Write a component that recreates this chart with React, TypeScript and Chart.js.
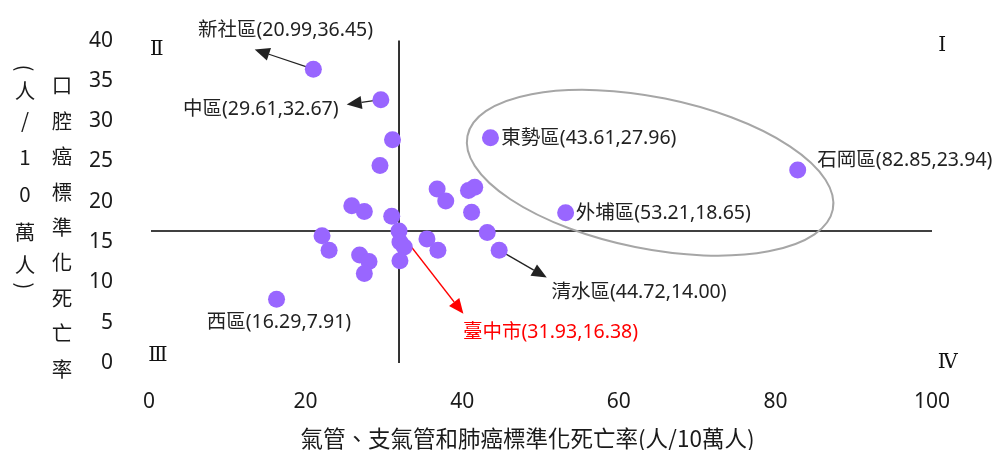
import React, { useEffect, useRef } from "react";
import { Chart, registerables } from "chart.js";

Chart.register(...registerables);

// ---- Data ----
// Labelled districts (x: lung cancer rate, y: oral cancer rate)
const annotNames = ["新社區", "中區", "東勢區", "外埔區", "石岡區", "清水區", "西區", "臺中市"];
const annotLungX = [20.99, 29.61, 43.61, 53.21, 82.85, 44.72, 16.29, 31.93];
const annotOralY = [36.45, 32.67, 27.96, 18.65, 23.94, 14.0, 7.91, 16.38];
// Where the label text starts (data coords, left-aligned, vertically centred)
const annotTextX = [6.26, 4.34, 45.0, 54.5, 85.35, 51.4, 7.37, 40.1];
const annotTextY = [41.2, 31.5, 27.8, 18.55, 25.1, 8.75, 5.07, 3.85];
// Arrow tips (data coords), null where there is no arrow
const annotTipX: (number | null)[] = [13.5, 25.25, null, null, null, 50.8, null, 40.15];
const annotTipY: (number | null)[] = [38.9, 32.06, null, null, null, 10.6, null, 6.1];
const annotColors = ["#222", "#222", "#222", "#222", "#222", "#222", "#222", "#ff0000"];

// Unlabelled districts
const otherLungX = [31.1, 29.5, 36.8, 37.9, 40.8, 41.6, 41.2, 25.9, 27.5, 31.0, 43.2, 22.1, 23.0, 35.5, 36.9, 32.05, 32.6, 26.9, 28.1, 32.05, 27.5];
const otherOralY = [27.7, 24.5, 21.6, 20.1, 21.4, 21.8, 18.7, 19.5, 18.8, 18.2, 16.2, 15.8, 14.0, 15.4, 14.0, 15.0, 14.4, 13.4, 12.6, 12.7, 11.1];

// Quadrant reference (Taichung city average)
const cityLung = 31.93;
const cityOral = 16.38;

// Quadrant numerals
const quadrantLabels = ["Ⅱ", "Ⅰ", "Ⅲ", "Ⅳ"];
const quadrantX = [1.0, 101.3, 1.15, 102.0];
const quadrantY = [38.9, 39.3, 0.86, 0.0];

// Ellipse highlighting the outliers (centre in data units, radii in data units)
const ellipseCenter = [64.0, 23.6];
const ellipseRadii = [23.8, 9.4];
const ellipseAngleDeg = 11.4;

const xTicksMin = 0, xTicksMax = 100, xStep = 20;
const yTicksMin = 0, yTicksMax = 40, yStep = 5;

const xTitle = "氣管、支氣管和肺癌標準化死亡率(人/10萬人)";
const yTitleMain = ["口", "腔", "癌", "標", "準", "化", "死", "亡", "率"];
const yTitleUnit = ["(", "人", "/", "1", "0", "萬", "人", ")"];

const SANS = '"Noto Sans", "Noto Sans CJK TC", sans-serif';
const CJK = '"Noto Sans CJK TC", "Noto Sans", sans-serif';
const TEXT = "#1a1a1a";

function drawArrow(ctx: CanvasRenderingContext2D, x1: number, y1: number, x2: number, y2: number, color: string) {
  const ang = Math.atan2(y2 - y1, x2 - x1);
  const len = 15, half = 6.5;
  const bx = x2 - len * Math.cos(ang), by = y2 - len * Math.sin(ang);
  ctx.strokeStyle = color;
  ctx.fillStyle = color;
  ctx.lineWidth = 1.3;
  ctx.beginPath();
  ctx.moveTo(x1, y1);
  ctx.lineTo(bx, by);
  ctx.stroke();
  ctx.beginPath();
  ctx.moveTo(x2, y2);
  ctx.lineTo(bx + half * Math.sin(ang), by - half * Math.cos(ang));
  ctx.lineTo(bx - half * Math.sin(ang), by + half * Math.cos(ang));
  ctx.closePath();
  ctx.fill();
}

export default function App() {
  const ref = useRef<HTMLCanvasElement>(null);
  useEffect(() => {
    document.body.style.margin = "0";
    const canvas = ref.current!;
    const points = [
      ...annotLungX.map((x, i) => ({ x, y: annotOralY[i] })),
      ...otherLungX.map((x, i) => ({ x, y: otherOralY[i] })),
    ];

    const overlay = {
      id: "overlay",
      beforeDatasetsDraw(chart: any) {
        const { ctx, chartArea, scales } = chart;
        const xs = scales.x, ys = scales.y;
        ctx.save();
        // quadrant lines
        ctx.strokeStyle = "#000";
        ctx.lineWidth = 1.6;
        const qx = xs.getPixelForValue(cityLung);
        const qy = ys.getPixelForValue(cityOral);
        ctx.beginPath();
        ctx.moveTo(qx, chartArea.top);
        ctx.lineTo(qx, chartArea.bottom);
        ctx.stroke();
        ctx.beginPath();
        ctx.moveTo(chartArea.left + 2, qy);
        ctx.lineTo(chartArea.right, qy);
        ctx.stroke();
        // ellipse
        const ecx = xs.getPixelForValue(ellipseCenter[0]);
        const ecy = ys.getPixelForValue(ellipseCenter[1]);
        const rx = Math.abs(xs.getPixelForValue(ellipseRadii[0]) - xs.getPixelForValue(0));
        const ry = Math.abs(ys.getPixelForValue(ellipseRadii[1]) - ys.getPixelForValue(0));
        ctx.strokeStyle = "#a6a6a6";
        ctx.lineWidth = 2;
        ctx.beginPath();
        ctx.ellipse(ecx, ecy, rx, ry, (ellipseAngleDeg * Math.PI) / 180, 0, Math.PI * 2);
        ctx.stroke();
        // arrows
        annotNames.forEach((_, i) => {
          const tx = annotTipX[i], ty = annotTipY[i];
          if (tx == null || ty == null) return;
          drawArrow(
            ctx,
            xs.getPixelForValue(annotLungX[i]),
            ys.getPixelForValue(annotOralY[i]),
            xs.getPixelForValue(tx),
            ys.getPixelForValue(ty),
            annotColors[i]
          );
        });
        ctx.restore();
      },
      afterDraw(chart: any) {
        const { ctx, chartArea, scales } = chart;
        const xs = scales.x, ys = scales.y;
        ctx.save();
        // annotation labels
        ctx.font = `19.5px ${SANS}`;
        ctx.textAlign = "left";
        ctx.textBaseline = "middle";
        annotNames.forEach((name, i) => {
          ctx.fillStyle = annotColors[i];
          const txt = `${name}(${annotLungX[i].toFixed(2)},${annotOralY[i].toFixed(2)})`;
          ctx.fillText(txt, xs.getPixelForValue(annotTextX[i]), ys.getPixelForValue(annotTextY[i]));
        });
        // quadrant numerals
        ctx.fillStyle = "#111";
        ctx.font = `20px "DejaVu Serif", "Liberation Serif", serif`;
        ctx.textAlign = "center";
        quadrantLabels.forEach((q, i) => {
          ctx.fillText(q, xs.getPixelForValue(quadrantX[i]), ys.getPixelForValue(quadrantY[i]));
        });
        // x title
        ctx.fillStyle = TEXT;
        ctx.font = `22.5px ${CJK}`;
        ctx.textAlign = "center";
        ctx.textBaseline = "middle";
        ctx.fillText(xTitle, (chartArea.left + chartArea.right) / 2 - 13, chartArea.bottom + 75);
        // y title, main column
        ctx.font = `20.5px ${CJK}`;
        const mainX = chartArea.left - 87;
        yTitleMain.forEach((c, i) => {
          ctx.fillText(c, mainX, chartArea.top + 45 + i * 35.4);
        });
        // y title, unit column
        const unitX = chartArea.left - 124;
        const unitY = [68, 91, 120, 157, 194, 232, 265, 286];
        yTitleUnit.forEach((c, i) => {
          const yy = unitY[i];
          if (c === "(" || c === ")") {
            ctx.save();
            ctx.translate(unitX, yy);
            ctx.rotate(Math.PI / 2);
            ctx.fillText(c, 0, 0);
            ctx.restore();
          } else {
            ctx.fillText(c, unitX, yy);
          }
        });
        ctx.restore();
      },
    };

    const chart = new Chart(canvas, {
      type: "scatter",
      data: {
        datasets: [
          {
            data: points,
            backgroundColor: "#9966ff",
            borderWidth: 0,
            pointRadius: 8.5,
            pointHoverRadius: 8.5,
          },
        ],
      },
      options: {
        responsive: false,
        animation: false,
        layout: { padding: { top: 37, right: 65, left: 0, bottom: 0 } },
        plugins: { legend: { display: false }, tooltip: { enabled: false } },
        scales: {
          x: {
            type: "linear",
            min: xTicksMin,
            max: xTicksMax,
            ticks: { stepSize: xStep, padding: 18, color: TEXT, font: { family: SANS, size: 21 } },
            grid: { display: false },
            border: { display: false },
            afterFit(s: any) {
              s.height = 87;
            },
          },
          y: {
            type: "linear",
            min: yTicksMin,
            max: yTicksMax,
            ticks: { stepSize: yStep, padding: 28, color: TEXT, font: { family: SANS, size: 21 } },
            grid: { display: false },
            border: { display: false },
            afterFit(s: any) {
              s.width = 149;
            },
          },
        },
      },
      plugins: [overlay],
    } as any);
    return () => chart.destroy();
  }, []);

  return (
    <div style={{ width: 997, height: 450, background: "#fff" }}>
      <canvas ref={ref} width={997} height={450} />
    </div>
  );
}
